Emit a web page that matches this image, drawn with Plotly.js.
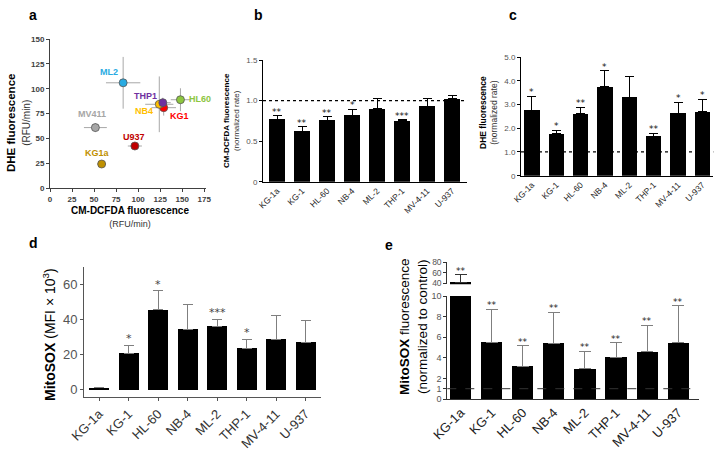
<!DOCTYPE html>
<html>
<head>
<meta charset="utf-8">
<script src="https://cdn.plot.ly/plotly-3.0.1.min.js"></script>
<style>html,body{margin:0;padding:0;background:#fff;}#chart{width:723px;height:460px;}</style>
</head>
<body>
<div id="chart"></div>
<script>
// ---------- DATA ----------
// Panel a (scatter)
const cellsA   = ["KG1a", "KG1", "HL60", "NB4", "ML2", "THP1", "MV411", "U937"];
const dcfA     = [58.6, 129, 148, 124, 83, 128, 51.5, 96.3];
const dcfErrA  = [5, 14, 11, 16, 19.5, 9, 13, 8];
const dheA     = [24.4, 81, 89, 84.4, 106, 86, 61, 42.5];
const dheErrA  = [3, 8, 11.5, 28, 26, 5, 4.5, 2];
const colorsA  = ["#bf9000", "#ff0000", "#8dc63f", "#ffc000", "#29abe2", "#7030a0", "#a6a6a6", "#c00000"];

// Bar panels share these cell lines
const cells = ["KG-1a", "KG-1", "HL-60", "NB-4", "ML-2", "THP-1", "MV-4-11", "U-937"];

// Panel b: CM-DCFDA normalized rate
const valB = [0.77, 0.62, 0.76, 0.82, 0.90, 0.75, 0.93, 1.02];
const errB = [0.04, 0.06, 0.04, 0.07, 0.13, 0.015, 0.10, 0.04];
const sigB = ["**", "**", "**", "*", "", "***", "", ""];

// Panel c: DHE normalized rate
const valC = [2.75, 1.76, 2.60, 3.74, 3.31, 1.67, 2.63, 2.70];
const errC = [0.59, 0.16, 0.28, 0.68, 0.88, 0.11, 0.46, 0.52];
const sigC = ["*", "*", "**", "*", "", "**", "*", "*"];

// Panel d: MitoSOX MFI x 10^3
const valD = [1.0, 20.7, 45.5, 34.5, 36.2, 23.7, 28.8, 26.9];
const errD = [0, 4.7, 10.9, 13.9, 3.8, 5.0, 13.7, 12.4];
const sigD = ["", "*", "*", "", "***", "*", "", ""];

// Panel e: MitoSOX normalized to control
const valE = [41.5, 5.53, 3.2, 5.4, 2.95, 4.05, 4.6, 5.44];
const errE = [14.5, 3.17, 1.95, 3.0, 1.68, 1.4, 2.55, 3.6];
const sigE = ["**", "**", "**", "**", "**", "**", "**", "**"];

const refLine = 1.0;

// ---------- STYLE ----------
const W = 723, H = 460;
const dx = (a, b) => [a / W, b / W];
const dy = (top, bot) => [1 - bot / H, 1 - top / H];
const FONT = "Liberation Sans, Arial, sans-serif";
const STARFONT = "DejaVu Sans, sans-serif";
const zeros = cells.map(() => 0);
const labelOffsets = {
  KG1a: [-4, 11, "center"], KG1: [4, -8, "left"], HL60: [7, 1, "left"], NB4: [-4, -7, "right"],
  ML2: [-14, 11, "center"], THP1: [-4, 7, "right"], MV411: [-3, 14, "center"], U937: [-1, 9, "center"]
};

const traces = [];

// a
traces.push({
  type: "scatter", mode: "markers", x: dcfA, y: dheA, xaxis: "x", yaxis: "y",
  marker: {size: 8, color: colorsA, line: {color: "#555", width: 0.8}},
  error_x: {type: "data", array: dcfErrA, color: "#a8a8a8", thickness: 1, width: 0},
  error_y: {type: "data", array: dheErrA, color: "#a8a8a8", thickness: 1, width: 0},
  hoverinfo: "skip"
});

function barTrace(vals, errs, xa, ya, errColor, w, capw, bw) {
  return {
    type: "bar", x: cells, y: vals, xaxis: xa, yaxis: ya, width: bw,
    marker: {color: "#000", line: {width: 0}},
    error_y: {type: "data", array: errs, arrayminus: zeros, symmetric: false,
              color: errColor, thickness: w, width: capw},
    hoverinfo: "skip"
  };
}
traces.push(barTrace(valB, errB, "x2", "y2", "#000", 1, 4.5, 0.64));
traces.push(barTrace(valC, errC, "x3", "y3", "#000", 1, 4.5, 0.64));
traces.push(barTrace(valD, errD, "x4", "y4", "#7f7f7f", 1, 5, 0.68));
traces.push(barTrace(valE, errE, "x5", "y5", "#7f7f7f", 1, 6, 0.68));
traces.push(barTrace(valE, errE, "x5", "y6", "#333", 1.2, 6, 0.68));

function yAx(domain, range, anchor, tickvals, ticktext, fsize, color, lineColor) {
  return {
    domain: domain, range: range, anchor: anchor, tickvals: tickvals, ticktext: ticktext,
    showgrid: false, zeroline: false, showline: true, linecolor: lineColor, linewidth: 1,
    ticks: "outside", ticklen: 3, tickcolor: lineColor, tickwidth: 1,
    tickfont: {family: FONT, size: fsize, color: color}, fixedrange: true
  };
}
function xCat(domain, range, anchor, fsize, color, lineColor, ticks) {
  return {
    domain: domain, range: range, anchor: anchor, type: "category",
    showgrid: false, zeroline: false, showline: true, linecolor: lineColor, linewidth: 1,
    ticks: ticks, ticklen: 3, tickcolor: lineColor, tickangle: -45,
    tickfont: {family: FONT, size: fsize, color: color}, fixedrange: true
  };
}

const layout = {
  width: W, height: H, margin: {l: 0, r: 0, t: 0, b: 0},
  paper_bgcolor: "#fff", plot_bgcolor: "rgba(0,0,0,0)", showlegend: false,
  font: {family: FONT},
  bargap: 0,
  // a
  xaxis: {domain: dx(50, 206), range: [0, 177], anchor: "y",
    tickvals: [0, 25, 50, 75, 100, 125, 150, 175],
    showgrid: false, zeroline: false, showline: true, linecolor: "#404040", linewidth: 1,
    ticks: "outside", ticklen: 3, tickcolor: "#404040",
    tickfont: {family: FONT, size: 8, color: "#404040", weight: "bold"}, fixedrange: true},
  yaxis: {domain: dy(39, 188.3), range: [0, 150], anchor: "x",
    tickvals: [0, 25, 50, 75, 100, 125, 150],
    showgrid: false, zeroline: false, showline: true, linecolor: "#404040", linewidth: 1,
    ticks: "outside", ticklen: 3, tickcolor: "#404040",
    tickfont: {family: FONT, size: 8, color: "#404040", weight: "bold"}, fixedrange: true},
  // b
  xaxis2: xCat(dx(263, 467), [-0.56, 7.6], "y2", 8.5, "#222", "#000", ""),
  yaxis2: yAx(dy(60, 181.7), [0, 1.5], "x2", [0, 0.5, 1.0, 1.5], ["0", "0.5", "1.0", "1.5"], 8, "#555", "#000"),
  // c
  xaxis3: xCat(dx(521, 713.3), [-0.45, 7.45], "y3", 8.5, "#222", "#000", ""),
  yaxis3: yAx(dy(57, 175.7), [0, 5], "x3", [0, 1, 2, 3, 4, 5], ["0", "1.0", "2.0", "3.0", "4.0", "5.0"], 8, "#555", "#000"),
  // d
  xaxis4: xCat(dx(84, 320.7), [-0.51, 7.51], "y4", 13, "#333", "#555", "outside"),
  yaxis4: yAx(dy(266.7, 397.3), [-4.4, 70.1], "x4", [0, 20, 40, 60], ["0", "20", "40", "60"], 13, "#555", "#555"),
  // e
  xaxis5: xCat(dx(447.3, 699.3), [-0.43, 7.68], "y5", 13, "#222", "#333", ""),
  yaxis5: yAx(dy(296, 399), [0, 10], "x5", [0, 1, 2, 4, 6, 8, 10], ["0", "1", "2", "4", "6", "8", "10"], 9, "#555", "#333"),
  yaxis6: yAx(dy(262.3, 284.3), [38, 80], "x5", [40, 60, 80], ["40", "60", "80"], 8.5, "#555", "#333"),
  shapes: [
    {type: "line", xref: "x2 domain", x0: 0, x1: 1, yref: "y2", y0: refLine, y1: refLine,
     line: {color: "#000", width: 1.2, dash: "dot"}},
    {type: "line", xref: "x3 domain", x0: 0, x1: 1, yref: "y3", y0: refLine, y1: refLine,
     line: {color: "#000", width: 1.2, dash: "dot"}},
    {type: "line", xref: "x5 domain", x0: 0, x1: 1, yref: "y5", y0: refLine, y1: refLine,
     line: {color: "#333", width: 1, dash: "dash"}}
  ],
  annotations: []
};

const ann = layout.annotations;
// panel letters
[["a", 33, 15], ["b", 258, 15], ["c", 513, 15], ["d", 33, 243], ["e", 389, 245]].forEach(p => {
  ann.push({text: "<b>" + p[0] + "</b>", xref: "paper", yref: "paper", x: p[1] / W, y: 1 - p[2] / H,
    xanchor: "center", yanchor: "middle", showarrow: false, font: {family: FONT, size: 14, color: "#000"}});
});

// panel a labels
cellsA.forEach((c, i) => {
  const o = labelOffsets[c];
  ann.push({text: "<b>" + c + "</b>", x: dcfA[i], y: dheA[i], xref: "x", yref: "y",
    xshift: o[0], yshift: o[1], showarrow: false, xanchor: o[2], yanchor: "middle",
    font: {family: FONT, size: 9, color: colorsA[i]}});
});

// axis titles
function title(text, px, py, size, angle, color) {
  ann.push({text: text, xref: "paper", yref: "paper", x: px / W, y: 1 - py / H,
    xanchor: "center", yanchor: "middle", showarrow: false, textangle: angle,
    font: {family: FONT, size: size, color: color || "#000"}});
}
title("<b>DHE fluorescence</b><br><span style='font-size:10px;color:#333'>(RFU/min)</span>", 18, 123, 11.5, -90);
title("<b>CM-DCFDA fluorescence</b><br><span style='font-size:9px;color:#333'>(RFU/min)</span>", 130, 217, 10);
title("<b>CM-DCFDA fluorescence</b><br><span style='color:#333'>(normalized rate)</span>", 231, 120, 8, -90);
title("<b>DHE fluorescence</b><br><span style='color:#333'>(normalized rate)</span>", 488, 113, 8.5, -90);
title("<b>MitoSOX</b> (MFI × 10<sup>3</sup>)", 49, 335, 14, -90);
title("<b>MitoSOX</b> fluorescence<br>(normalized to control)", 413, 327, 13.5, -90);

// significance stars
function stars(sig, vals, errs, xa, ya, size, color, shift) {
  sig.forEach((s, i) => {
    if (!s) return;
    ann.push({text: s, x: cells[i], y: vals[i] + errs[i], xref: xa, yref: ya,
      xanchor: "center", yanchor: "bottom", yshift: shift, showarrow: false,
      font: {family: STARFONT, size: size, color: color}});
  });
}
stars(sigB, valB, errB, "x2", "y2", 9, "#111", -3);
stars(sigC, valC, errC, "x3", "y3", 9, "#111", -3);
stars(sigD, valD, errD, "x4", "y4", 11, "#444", -2);
stars(sigE.slice(0, 1), valE, errE, "x5", "y6", 9, "#222", -3);
stars(sigE.map((s, i) => i === 0 ? "" : s), valE, errE, "x5", "y5", 9, "#222", -3);

Plotly.newPlot("chart", traces, layout, {staticPlot: true, displayModeBar: false});
</script>
</body>
</html>
